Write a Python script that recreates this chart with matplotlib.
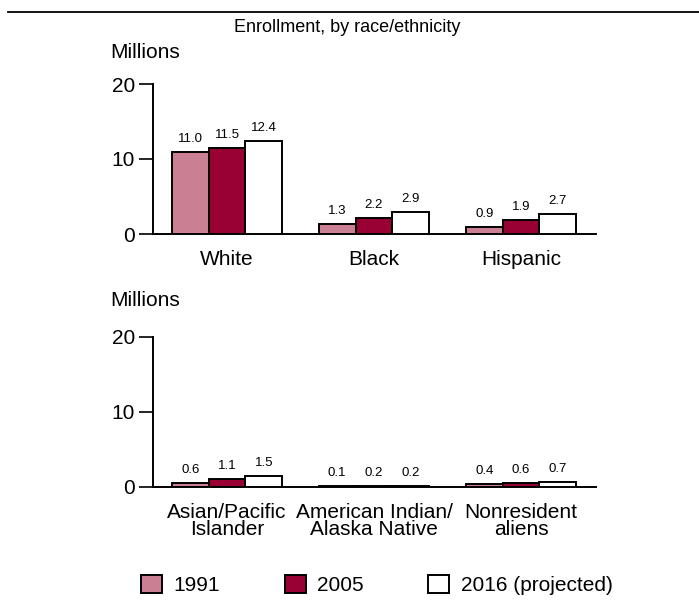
import matplotlib
matplotlib.use("Agg")
import matplotlib.pyplot as plt
import numpy as np
from matplotlib.patches import Patch
from matplotlib.lines import Line2D

plt.rcParams['font.family'] = ['Liberation Sans', 'DejaVu Sans']

top_categories = ["White", "Black", "Hispanic"]
bottom_categories = ["Asian/Pacific\nIslander", "American Indian/\nAlaska Native", "Nonresident\naliens"]
years = ["1991", "2005", "2016 (projected)"]
top_1991 = [11.0, 1.3, 0.9]
top_2005 = [11.5, 2.2, 1.9]
top_2016 = [12.4, 2.9, 2.7]
bot_1991 = [0.6, 0.1, 0.4]
bot_2005 = [1.1, 0.2, 0.6]
bot_2016 = [1.5, 0.2, 0.7]
yticks = [0, 10, 20]
title = "Enrollment, by race/ethnicity"
ylabel = "Millions"

colors = ["#CA7F92", "#990033", "#FFFFFF"]

W, H = 699, 601
fig = plt.figure(figsize=(W / 100, H / 100), dpi=100)

def px_axes(left, right, top, bottom):
    return fig.add_axes([left / W, 1 - bottom / H, (right - left) / W, (bottom - top) / H])

ax1 = px_axes(153, 596, 84, 234)
ax2 = px_axes(153, 596, 337, 487)

bw = 0.25

def draw(ax, cats, series):
    x = np.arange(len(cats))
    for i, (vals, col) in enumerate(zip(series, colors)):
        xs = x + (i - 1) * bw
        ax.bar(xs, vals, width=bw, color=col, edgecolor="black", linewidth=1.4, zorder=3)
        for xx, v in zip(xs, vals):
            ax.annotate(f"{v:.1f}", (xx, v), xytext=(0, 5), textcoords="offset points",
                        ha="center", va="bottom", fontsize=9.5)
    ax.set_xlim(-0.503, 2.51)
    ax.set_ylim(0, 20)
    ax.set_yticks(yticks)
    ax.set_xticks(x)
    ax.set_xticklabels(cats, fontsize=15, linespacing=0.85)
    ax.tick_params(axis="x", length=0, pad=11.5)
    ax.tick_params(axis="y", length=10, width=1.2, pad=3, labelsize=15)
    for s in ["top", "right"]:
        ax.spines[s].set_visible(False)
    for s in ["left", "bottom"]:
        ax.spines[s].set_linewidth(1.4)
    ax.set_facecolor("none")

draw(ax1, top_categories, [top_1991, top_2005, top_2016])
draw(ax2, bottom_categories, [bot_1991, bot_2005, bot_2016])

fig.text(347 / W, 1 - 28 / H, title, ha="center", va="center", fontsize=13)
fig.text(110 / W, 1 - 52 / H, ylabel, ha="left", va="center", fontsize=15)
fig.text(110 / W, 1 - 300 / H, ylabel, ha="left", va="center", fontsize=15)

fig.add_artist(Line2D([8 / W, 1.0], [1 - 12 / H, 1 - 12 / H], color="black", linewidth=1.3,
                      transform=fig.transFigure))

handles = [Patch(facecolor=c, edgecolor="black", linewidth=1.4) for c in colors]
fig.legend(handles, years, loc="center", bbox_to_anchor=(377 / W, 1 - 585 / H), ncol=3,
           frameon=False, fontsize=15, handlelength=1.0, handleheight=1.0,
           handletextpad=0.55, columnspacing=3.1)

fig.savefig("out.png", dpi=100)
